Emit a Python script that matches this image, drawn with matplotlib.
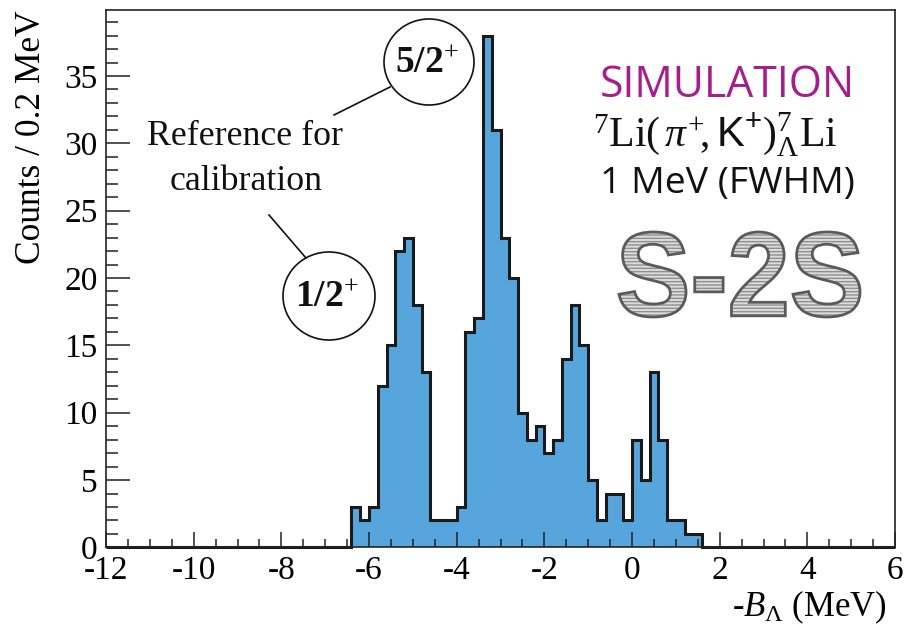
import numpy as np
import matplotlib
matplotlib.use("Agg")
import matplotlib.pyplot as plt
from matplotlib.patches import Ellipse, PathPatch
from matplotlib.textpath import TextPath
from matplotlib.font_manager import FontProperties
import matplotlib.transforms as mtransforms
from matplotlib.ticker import MultipleLocator
from matplotlib.lines import Line2D

# ---------------- data ----------------
x_min, x_max = -12.0, 6.0
bin_width = 0.2
first_bin = -6.4
counts = [3, 2, 3, 12, 15, 22, 23, 18, 13, 2,
          2, 2, 3, 16, 17, 38, 31, 23, 20, 10,
          8, 9, 7, 8, 14, 18, 15, 5, 2, 4,
          4, 2, 8, 5, 13, 8, 2, 2, 1, 1]
x_ticks = [-12, -10, -8, -6, -4, -2, 0, 2, 4, 6]
y_ticks = [0, 5, 10, 15, 20, 25, 30, 35]
y_max = 39.9

# ---------------- style ----------------
plt.rcParams['font.family'] = ['Liberation Serif', 'DejaVu Serif']
plt.rcParams['mathtext.fontset'] = 'custom'
plt.rcParams['mathtext.rm'] = 'Liberation Serif'
plt.rcParams['mathtext.it'] = 'Liberation Serif:italic'
plt.rcParams['mathtext.bf'] = 'Liberation Serif:bold'
plt.rcParams['mathtext.sf'] = 'Liberation Sans'
plt.rcParams['hatch.linewidth'] = 1.0
plt.rcParams['axes.unicode_minus'] = False

W, H = 905, 626
def fx(px):
    return px / W
def fy(py):
    return 1 - py / H

edges = np.round(np.arange(x_min, x_max + 1e-9, bin_width), 4)
values = np.zeros(len(edges) - 1)
i0 = int(round((first_bin - x_min) / bin_width))
values[i0:i0 + len(counts)] = counts

fig = plt.figure(figsize=(W / 100, H / 100), dpi=100)
ax = fig.add_axes([fx(106), fy(547.4), (895 - 106) / W, (547.4 - 10) / H])

ax.stairs(values, edges, fill=True, color='#56a5dc', lw=0)
ax.stairs(values, edges, color='#1a1a1a', lw=2.2, clip_on=False)

ax.set_xlim(x_min, x_max)
ax.set_ylim(0, y_max)
ax.set_xticks(x_ticks)
ax.set_yticks(y_ticks)
ax.xaxis.set_minor_locator(MultipleLocator(0.5))
ax.yaxis.set_minor_locator(MultipleLocator(1))
for s in ax.spines.values():
    s.set_linewidth(1.2)
    s.set_color('#222222')
ax.tick_params(axis='both', which='both', direction='in', top=False, right=False,
               color='#222222')
ax.tick_params(axis='y', which='major', length=17, width=1.1, pad=6, labelsize=24)
ax.tick_params(axis='y', which='minor', length=8.6, width=1.1)
ax.tick_params(axis='x', which='major', length=11, width=1.1, pad=6, labelsize=24)
ax.tick_params(axis='x', which='minor', length=5.6, width=1.1)

fig.text(fx(32), fy(10), "Counts / 0.2 MeV", rotation=90, ha='center', va='top',
         fontsize=25.5)
fig.text(fx(887), fy(607), r"-$B_{\Lambda}$ (MeV)", ha='right', va='center', fontsize=25)

# ----- annotations -----
texts_fit = []
t1 = fig.text(fx(727), fy(96.7), "SIMULATION", ha='center', va='baseline',
              color='#a61d8e', family='Open Sans', fontsize=28)
texts_fit.append((t1, 255))
t2 = fig.text(fx(715), fy(146.7),
              r"${}^{7}\mathrm{Li}(\,\pi^{+}\!,\mathsf{K^{+}})^{7}_{\Lambda}\mathrm{Li}$",
              ha='center', va='baseline', fontsize=26, color='#111111')
texts_fit.append((t2, 244))
t3 = fig.text(fx(727), fy(193), "1 MeV (FWHM)", ha='center', va='baseline',
              family='Open Sans', fontsize=24, color='#111111')
texts_fit.append((t3, 255))
t4 = fig.text(fx(245), fy(145), "Reference for", ha='center', va='baseline',
              fontsize=20, color='#111111')
texts_fit.append((t4, 196))
t5 = fig.text(fx(246), fy(190), "calibration", ha='center', va='baseline',
              fontsize=20, color='#111111')
texts_fit.append((t5, 153))

fig.canvas.draw()
r = fig.canvas.get_renderer()
for _ in range(2):
    for t, tw in texts_fit:
        bb = t.get_window_extent(r)
        t.set_fontsize(t.get_fontsize() * tw / bb.width)
    fig.canvas.draw()

# circles
for (cx, cy, rx, ry, lab) in [(429, 62, 45, 43, r"$\mathbf{5/2}^{+}$"),
                              (329, 296, 46, 44, r"$\mathbf{1/2}^{+}$")]:
    e = Ellipse((fx(cx), fy(cy)), 2 * rx / W, 2 * ry / H, transform=fig.transFigure,
                fill=False, lw=1.2, ec='#111111')
    fig.add_artist(e)
    fig.text(fx(cx - 2), fy(cy + 1), lab, ha='center', va='center', fontsize=27,
             color='#111111')

for (x1, y1, x2, y2) in [(334, 115, 390, 87), (269, 215, 306, 258)]:
    fig.add_artist(Line2D([fx(x1), fx(x2)], [fy(y1), fy(y2)], transform=fig.transFigure,
                          color='#111111', lw=1.2))

# S-2S hatched outline text
tp = TextPath((0, 0), "S-2S", size=100,
              prop=FontProperties(family='Liberation Sans', weight='bold'))
ext = tp.get_extents()
bx0, bx1, by_top, by_bot = 619, 860, 232, 317
tr = (mtransforms.Affine2D()
      .translate(-ext.x0, -ext.y0)
      .scale((fx(bx1) - fx(bx0)) / ext.width, (fy(by_top) - fy(by_bot)) / ext.height)
      .translate(fx(bx0), fy(by_bot))) + fig.transFigure
p1 = PathPatch(tp, transform=tr, facecolor='#dcdcdc', edgecolor='#8f8f8f',
               hatch='-----', lw=0)
p2 = PathPatch(tp, transform=tr, facecolor='none', edgecolor='#5a5a5a', lw=2.0)
fig.add_artist(p1)
fig.add_artist(p2)

fig.savefig("out.png", dpi=100)
